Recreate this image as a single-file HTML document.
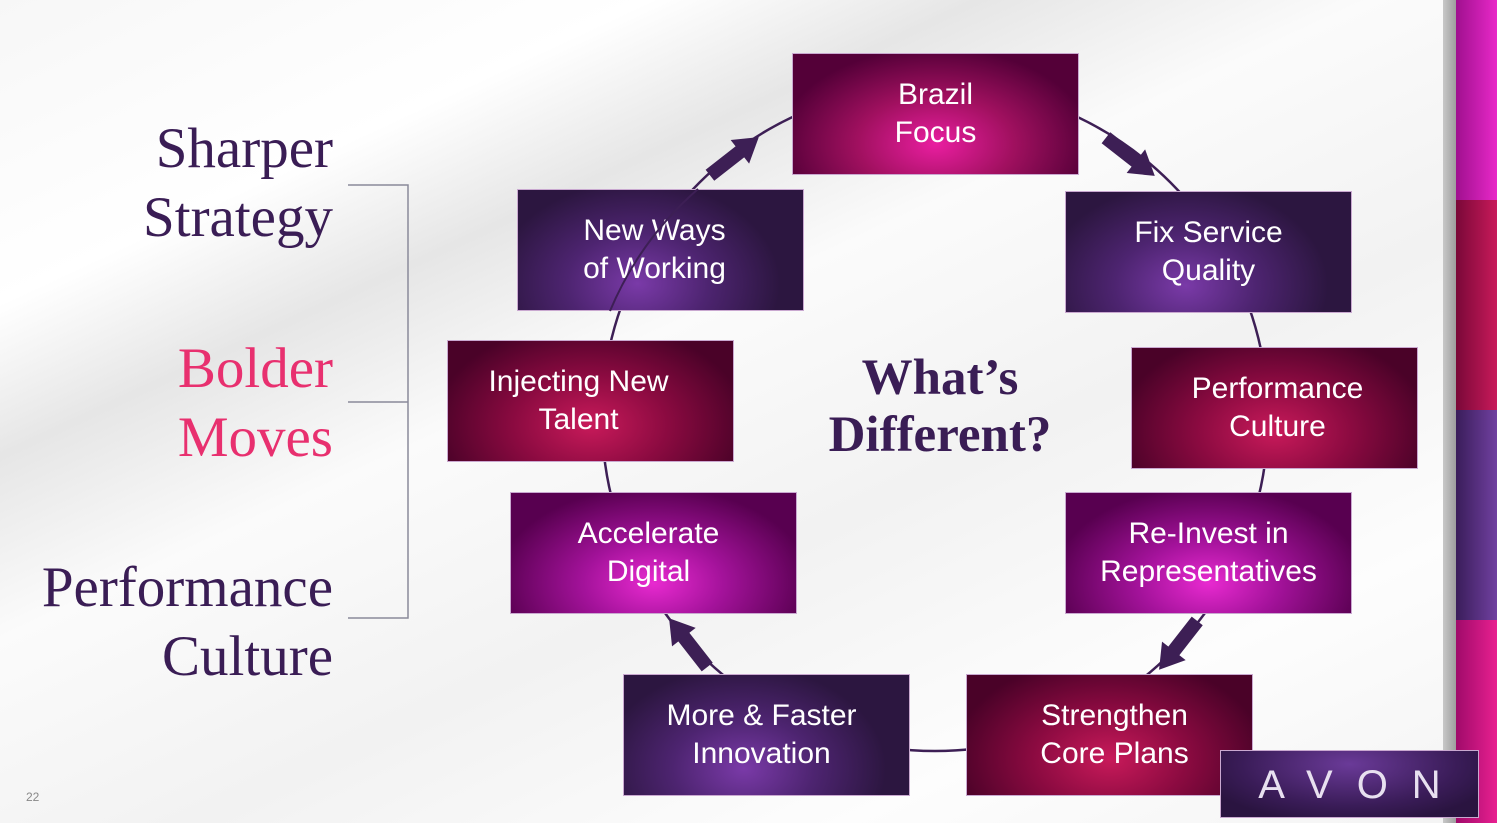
<!DOCTYPE html>
<html><head><meta charset="utf-8"><style>
*{margin:0;padding:0;box-sizing:border-box}
body{width:1497px;height:823px;position:relative;overflow:hidden;font-family:"Liberation Sans",sans-serif;
background:linear-gradient(155deg,#f7f7f7 0%,#ffffff 20%,#e6e6e6 30%,#fbfbfb 42%,#f2f2f2 60%,#fdfdfd 80%,#f3f3f3 100%)}
.b{position:absolute;width:287px;height:122px;border:1px solid #c9a8d0;color:#fff;font-size:30px;line-height:38px;display:flex;align-items:center;justify-content:center;text-align:center}
.m{background:radial-gradient(ellipse 55% 80% at 50% 75%,#e91ea0 0%,#a0105f 50%,#540038 100%)}
.ac{background:radial-gradient(ellipse 55% 80% at 50% 75%,#e82ad0 0%,#a3129a 45%,#580050 100%)}
.p{background:radial-gradient(ellipse 50% 85% at 42% 78%,#7a3aa8 0%,#4d2470 50%,#2c1640 100%)}
.c{background:radial-gradient(ellipse 55% 85% at 50% 70%,#c81a5a 0%,#8a0a40 50%,#4a0228 100%)}
.s{position:absolute;right:1164px;font-family:"Liberation Serif",serif;font-size:57px;text-align:right;line-height:69px;white-space:nowrap}
</style></head><body>
<div style="position:absolute;left:1443px;top:0;width:14px;height:823px;background:linear-gradient(90deg,#c8c8c8,#9a9a9a)"></div>
<div style="position:absolute;left:1456px;top:0;width:41px;height:200px;background:linear-gradient(90deg,#a0108f,#e828c8)"></div>
<div style="position:absolute;left:1456px;top:200px;width:41px;height:210px;background:linear-gradient(90deg,#7a0838,#c81a5a)"></div>
<div style="position:absolute;left:1456px;top:410px;width:41px;height:210px;background:linear-gradient(90deg,#3a1d5a,#7040a0)"></div>
<div style="position:absolute;left:1456px;top:620px;width:41px;height:203px;background:linear-gradient(90deg,#a00a6a,#e82090)"></div>

<svg width="1497" height="823" style="position:absolute;left:0;top:0">
<circle cx="935" cy="418" r="333" fill="none" stroke="#3d1f55" stroke-width="2.5"/>
<g fill="#3d1f55">
<g transform="translate(732,158) rotate(-38)"><rect x="-28" y="-7" width="42" height="14"/><polygon points="10,-15 34,0 10,15"/></g>
<g transform="translate(1128,155) rotate(38)"><rect x="-28" y="-7" width="42" height="14"/><polygon points="10,-15 34,0 10,15"/></g>
<g transform="translate(1180,643) rotate(128)"><rect x="-28" y="-7" width="42" height="14"/><polygon points="10,-15 34,0 10,15"/></g>
<g transform="translate(690,645) rotate(-128)"><rect x="-28" y="-7" width="42" height="14"/><polygon points="10,-15 34,0 10,15"/></g>
</g>
<path d="M348 185H408V618H348M348 402H408" fill="none" stroke="#8a8a9a" stroke-width="1.5"/>
</svg>

<div class="s" style="top:114px;color:#3a1d55">Sharper<br>Strategy</div>
<div class="s" style="top:334px;color:#e8306f">Bolder<br>Moves</div>
<div class="s" style="top:553px;color:#3a1d55">Performance<br>Culture</div>

<div style="position:absolute;left:790px;top:350px;width:300px;text-align:center;font-family:'Liberation Serif',serif;font-weight:bold;font-size:51px;line-height:57px;color:#3a1d55">What’s<br>Different?</div>

<div class="b m" style="left:792px;top:53px">Brazil<br>Focus</div>
<div class="b p" style="left:517px;top:189px;padding-right:12px">New Ways<br>of Working</div>
<svg width="1497" height="823" style="position:absolute;left:0;top:0;pointer-events:none">
<path d="M698 189 A333 333 0 0 0 610 311" fill="none" stroke="#3d1f55" stroke-width="2"/>
</svg>
<div class="b p" style="left:1065px;top:191px">Fix Service<br>Quality</div>
<div class="b c" style="left:447px;top:340px;padding-right:24px">Injecting New<br>Talent</div>
<div class="b c" style="left:1131px;top:347px;padding-left:6px">Performance<br>Culture</div>
<div class="b ac" style="left:510px;top:492px;padding-right:10px">Accelerate<br>Digital</div>
<div class="b ac" style="left:1065px;top:492px">Re-Invest in<br>Representatives</div>
<div class="b p" style="left:623px;top:674px;padding-right:10px">More &amp; Faster<br>Innovation</div>
<div class="b c" style="left:966px;top:674px;padding-left:10px">Strengthen<br>Core Plans</div>
<div style="position:absolute;left:1220px;top:750px;width:259px;height:68px;border:1px solid #c9a8d0;background:radial-gradient(ellipse 60% 90% at 50% 20%,#6a3a98,#3a1c58 70%,#2a1440);color:#e8e0f0;font-size:40px;letter-spacing:24px;text-align:center;line-height:68px;padding-left:24px;font-weight:300">AVON</div>
<div style="position:absolute;left:26px;top:790px;font-size:12px;color:#888">22</div>
</body></html>
